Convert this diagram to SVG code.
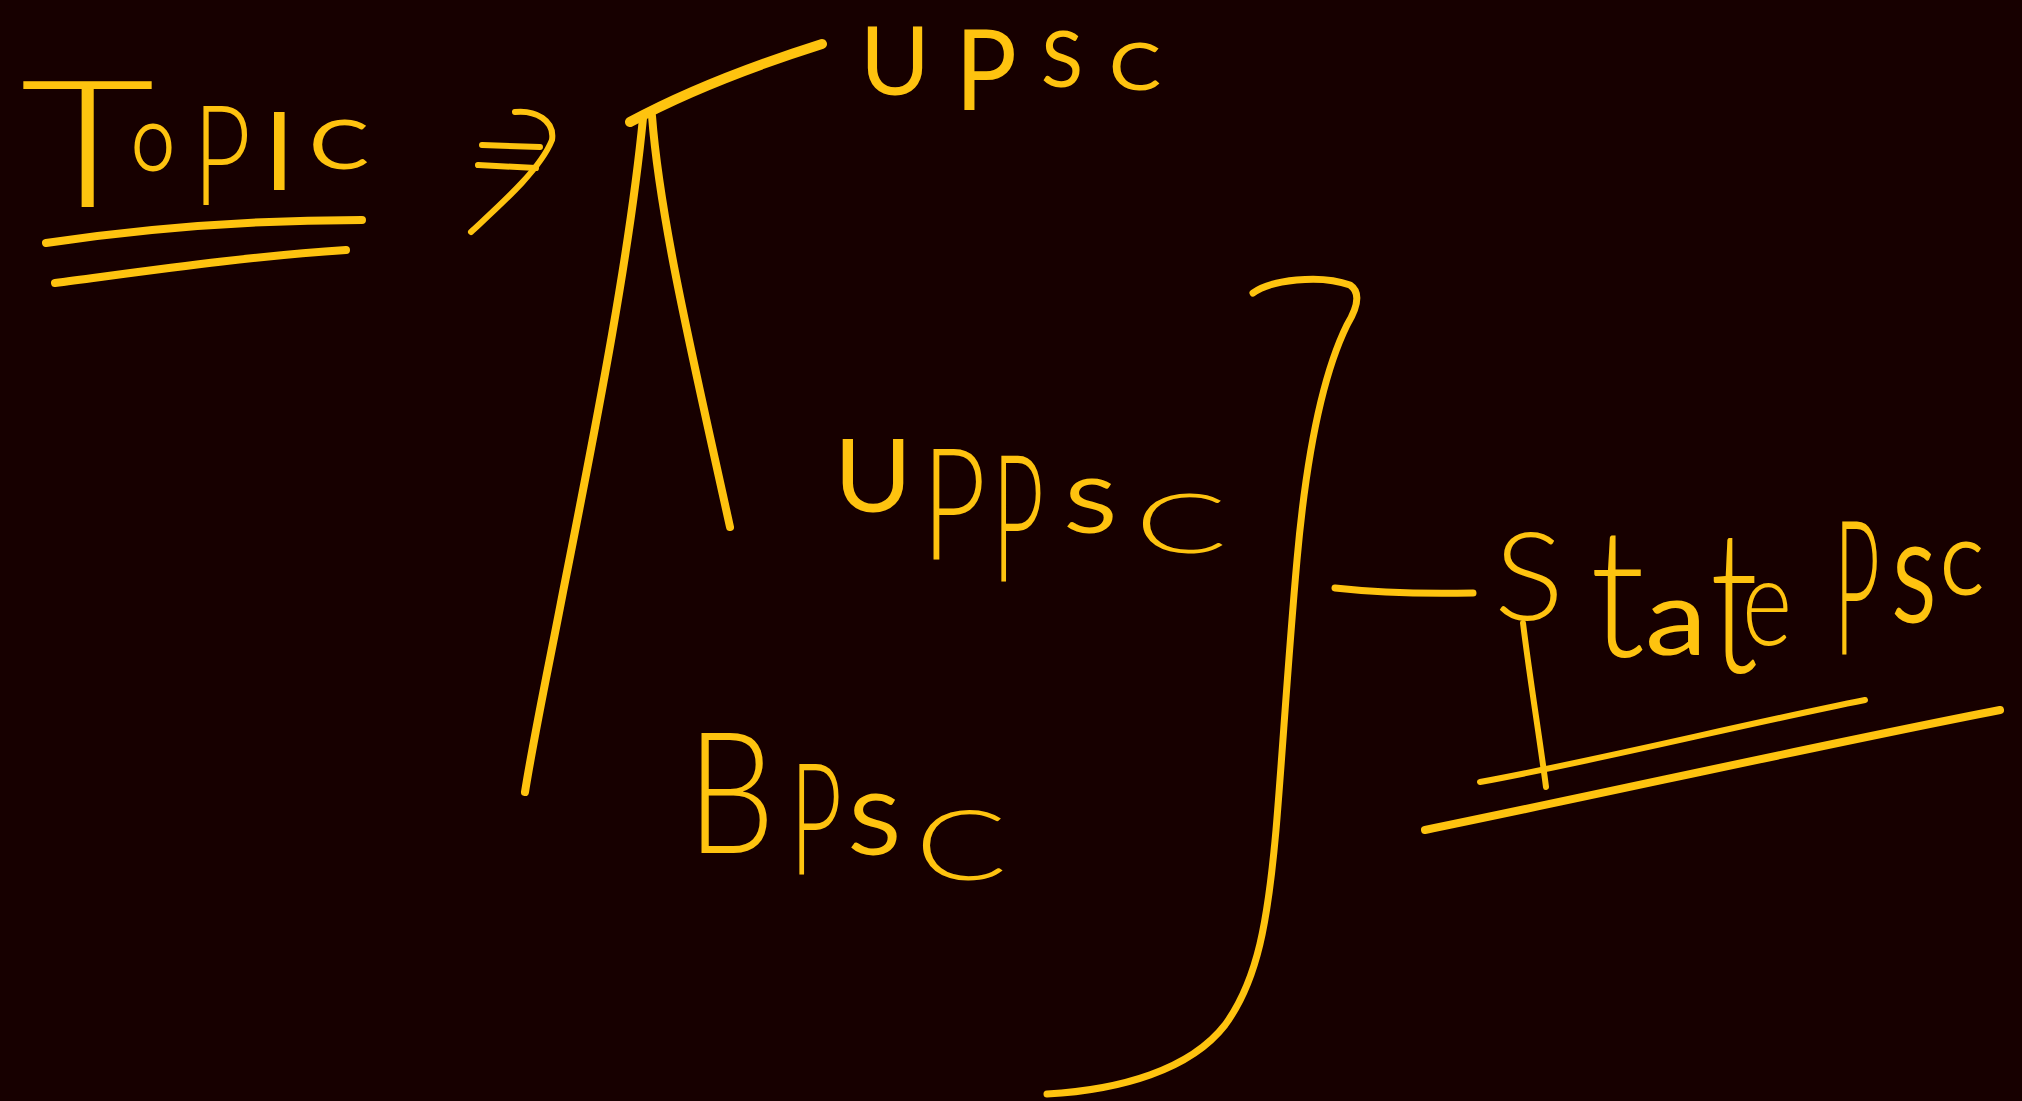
<svg xmlns="http://www.w3.org/2000/svg" width="2022" height="1101" viewBox="0 0 2022 1101">
<style>
  .ink { fill: none; stroke: #FEC30F; stroke-linecap: round; stroke-linejoin: round; }
  .hand { fill: #FEC30F; font-family: Lato, Roboto, "Open Sans", "Liberation Sans", sans-serif; font-weight: 300; }
  .r { font-weight: 400; }
</style>
<rect width="2022" height="1101" fill="#170000"/>

<g id="topic">
  <text class="hand"><tspan x="20" y="207" font-size="177" textLength="135" lengthAdjust="spacingAndGlyphs">T</tspan><tspan class="r" x="132" y="171" font-size="66" textLength="42" lengthAdjust="spacingAndGlyphs">O</tspan><tspan x="193" y="205" font-size="140" textLength="58" lengthAdjust="spacingAndGlyphs">P</tspan><tspan class="r" x="264" y="190" font-size="109">I</tspan><tspan class="r" x="309" y="169" font-size="68" textLength="60" lengthAdjust="spacingAndGlyphs">C</tspan></text>
  <path class="ink" stroke-width="8" d="M46,243 C120,232 230,220 362,220"/>
  <path class="ink" stroke-width="8" d="M55,283 C140,272 250,256 346,250"/>
</g>

<g id="upsc">
  <text class="hand r"><tspan x="860" y="95" font-size="95" textLength="70" lengthAdjust="spacingAndGlyphs">U</tspan><tspan x="955" y="110" font-size="112" textLength="62" lengthAdjust="spacingAndGlyphs">P</tspan><tspan x="1041" y="87" font-size="78" textLength="42" lengthAdjust="spacingAndGlyphs">S</tspan><tspan x="1109" y="90" font-size="66" textLength="52" lengthAdjust="spacingAndGlyphs">C</tspan></text>
</g>

<g id="uppsc">
  <text class="hand"><tspan class="r" x="834" y="512" font-size="100" textLength="78" lengthAdjust="spacingAndGlyphs">U</tspan><tspan x="922" y="560" font-size="156" textLength="64" lengthAdjust="spacingAndGlyphs">P</tspan><tspan x="992" y="582" font-size="177" textLength="52" lengthAdjust="spacingAndGlyphs">P</tspan><tspan class="r" x="1064" y="533" font-size="75" textLength="53" lengthAdjust="spacingAndGlyphs">S</tspan><tspan x="1135" y="553" font-size="82" textLength="92" lengthAdjust="spacingAndGlyphs">C</tspan></text>
</g>

<g id="bpsc">
  <text class="hand"><tspan x="687" y="853" font-size="169" textLength="88" lengthAdjust="spacingAndGlyphs">B</tspan><tspan x="790" y="875" font-size="156" textLength="52" lengthAdjust="spacingAndGlyphs">P</tspan><tspan class="r" x="848" y="855" font-size="85" textLength="53" lengthAdjust="spacingAndGlyphs">S</tspan><tspan x="915" y="880" font-size="96" textLength="92" lengthAdjust="spacingAndGlyphs">C</tspan></text>
</g>

<g id="state-psc">
  <text class="hand"><tspan x="1494" y="620" font-size="123" textLength="70" lengthAdjust="spacingAndGlyphs">S</tspan><tspan x="1590" y="657" font-size="180" textLength="55" lengthAdjust="spacingAndGlyphs">t</tspan><tspan class="r" x="1645" y="655" font-size="105" textLength="62" lengthAdjust="spacingAndGlyphs">a</tspan><tspan x="1710" y="672" font-size="200" textLength="48" lengthAdjust="spacingAndGlyphs">t</tspan><tspan x="1742" y="645" font-size="122" textLength="50" lengthAdjust="spacingAndGlyphs">e</tspan> <tspan x="1834" y="655" font-size="188" textLength="46" lengthAdjust="spacingAndGlyphs">P</tspan><tspan class="r" x="1892" y="623" font-size="104" textLength="44" lengthAdjust="spacingAndGlyphs">S</tspan><tspan class="r" x="1941" y="595" font-size="74" textLength="42" lengthAdjust="spacingAndGlyphs">C</tspan></text>
  <path class="ink" stroke-width="6" d="M1523,623 C1530,680 1540,740 1546,787"/>
  <path class="ink" stroke-width="6" d="M1480,782 C1600,760 1740,725 1865,700"/>
  <path class="ink" stroke-width="8" d="M1425,830 C1620,790 1820,745 2000,710"/>
</g>

<g id="connectors">
  <path class="ink" stroke-width="6" d="M515,112 C535,110 555,120 552,140 C540,170 500,205 471,232"/>
  <path class="ink" stroke-width="6" d="M482,145 L540,147"/>
  <path class="ink" stroke-width="6" d="M478,165 L536,168"/>
  <path class="ink" stroke-width="10" d="M630,122 C680,95 740,70 822,44"/>
  <path class="ink" stroke-width="8" d="M643,118 C630,250 600,406 563,592 C550,660 535,730 525,792"/>
  <path class="ink" stroke-width="8" d="M652,116 C660,220 693,359 730,527"/>
  <path class="ink" stroke-width="7" d="M1253,293 C1270,280 1320,274 1350,285 C1362,293 1356,310 1347,325 C1320,380 1305,470 1297,560 C1288,660 1282,760 1276,830 C1268,920 1258,980 1225,1025 C1190,1070 1120,1090 1047,1094"/>
  <path class="ink" stroke-width="7" d="M1335,588 C1380,593 1430,594 1473,593"/>
</g>
</svg>
